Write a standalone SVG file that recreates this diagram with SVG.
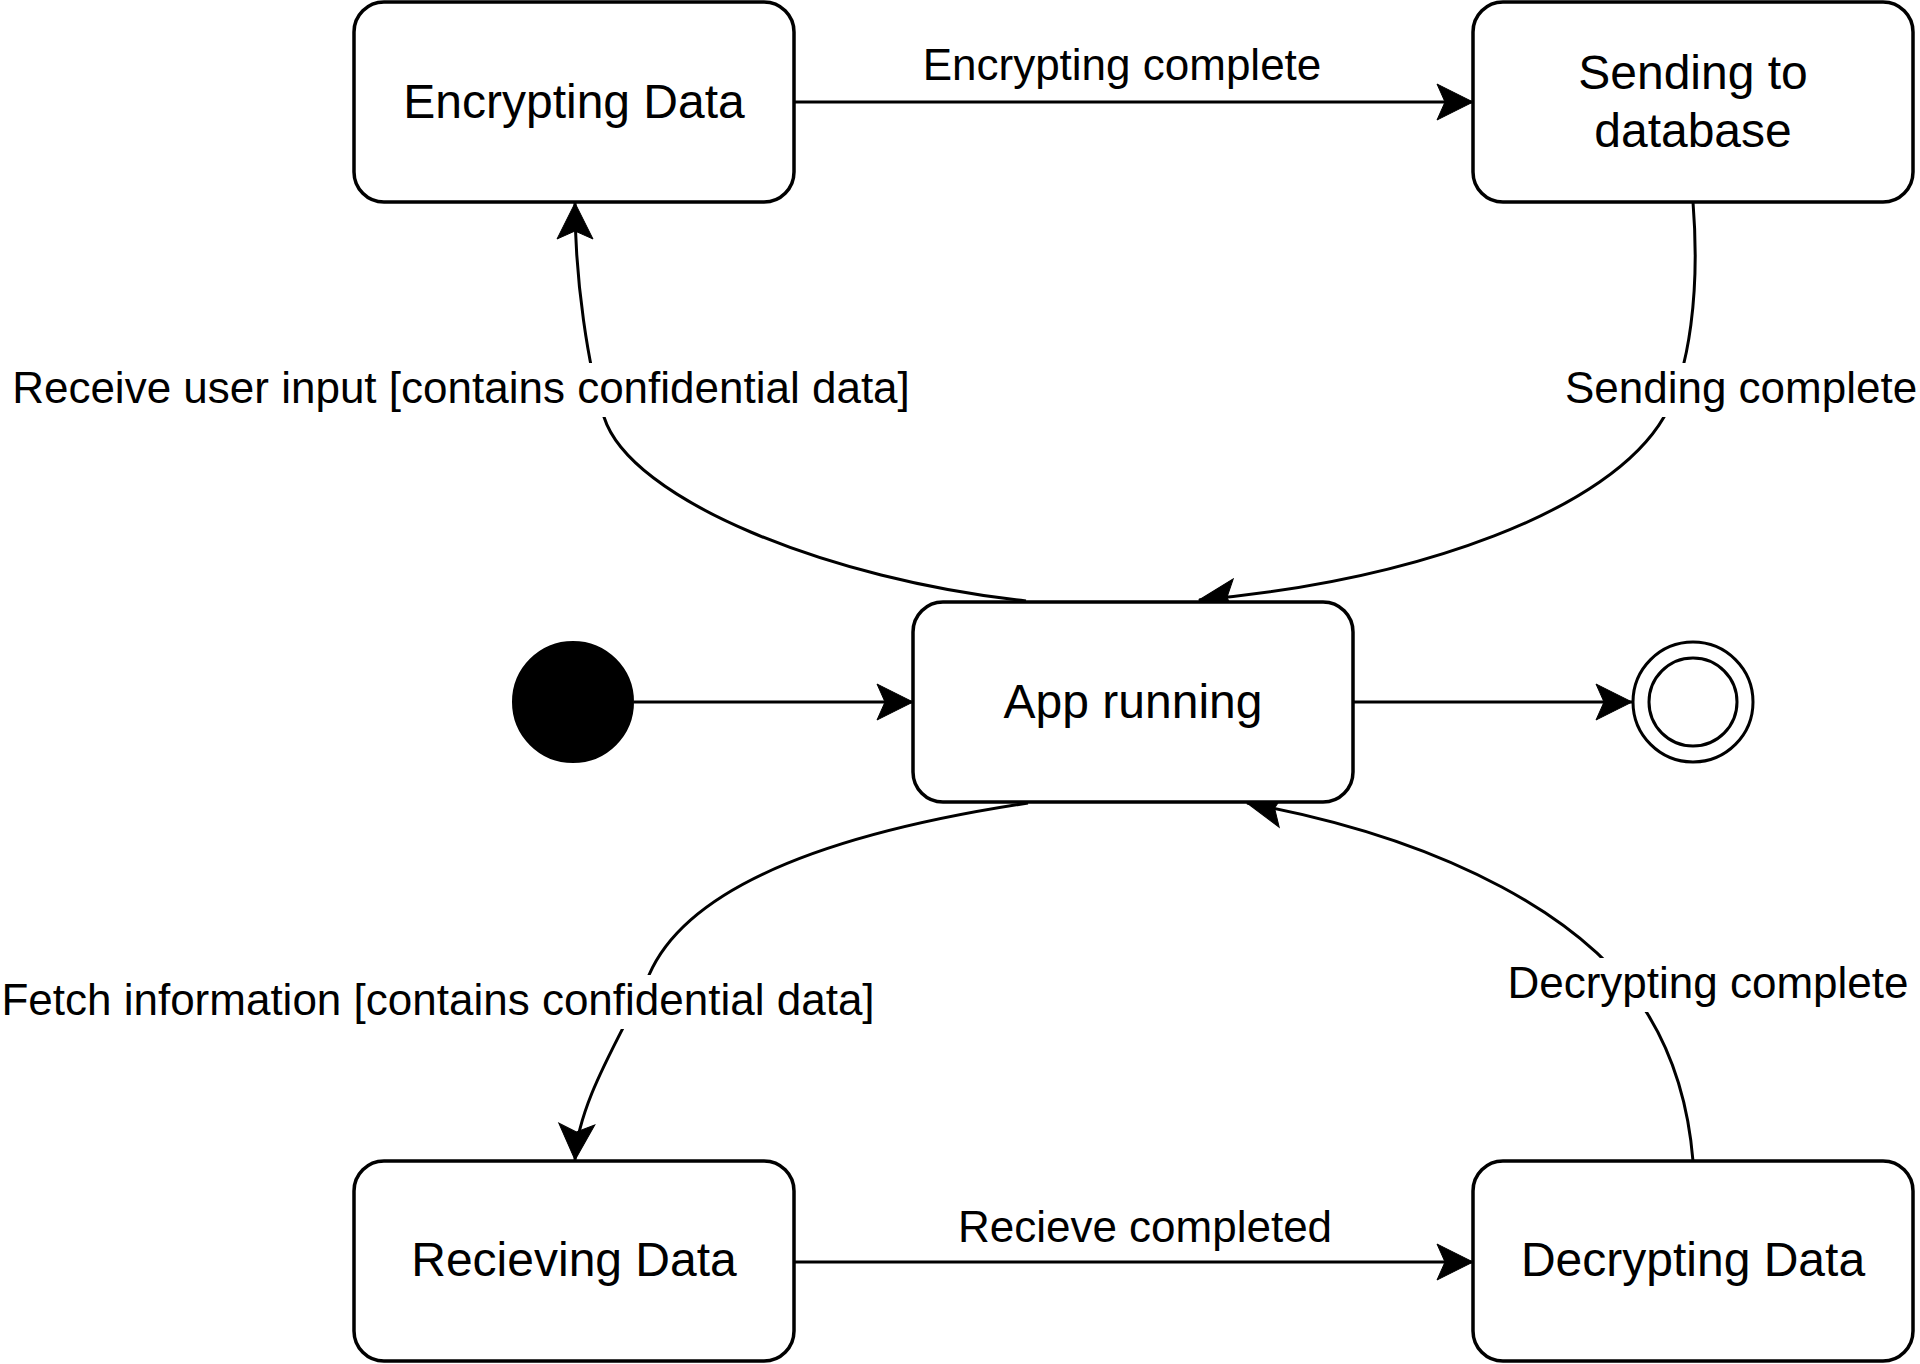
<svg xmlns="http://www.w3.org/2000/svg" width="1920" height="1364" viewBox="0 0 1920 1364">
<style>
.node{fill:#fff;stroke:#000;stroke-width:3.5}
.nt{font-family:"Liberation Sans",Arial,sans-serif;font-size:48px;fill:#000;text-anchor:middle}
.lt{font-family:"Liberation Sans",Arial,sans-serif;font-size:44px;fill:#000;text-anchor:middle}
.edge{fill:none;stroke:#000;stroke-width:3;marker-end:url(#arr)}
.lbg{fill:#fff;stroke:none}
</style>
<defs>
<marker id="arr" markerUnits="userSpaceOnUse" viewBox="-40 -20 42 40" refX="0" refY="0" markerWidth="42" markerHeight="40" orient="auto" overflow="visible">
<path d="M0,0 L-36,-18 L-28,0 L-36,18 Z" fill="#000" stroke="#000" stroke-width="1"/>
</marker>
</defs>
<rect width="1920" height="1364" fill="#fff"/>
<g id="connectors">
<path class="edge" d="M794,102 L1473,102"/>
<path class="edge" d="M1026,601 C830,580 630,500 604,417 C588,367 575,280 575,203"/>
<path class="edge" d="M1693,202 C1700,290 1690,370 1664,417 C1610,510 1420,580 1199,600"/>
<path class="edge" d="M634,702 L913,702"/>
<path class="edge" d="M1353,702 L1632,702"/>
<path class="edge" d="M1028,803 C850,830 690,880 649,975 C624,1032 578,1100 575,1160"/>
<path class="edge" d="M1693,1161 C1688,1100 1670,1050 1647,1013 C1590,920 1450,840 1247,803"/>
<path class="edge" d="M794,1262 L1473,1262"/>
<g id="edge-labels">
<text class="lt" x="1122" y="80">Encrypting complete</text>
<rect class="lbg" x="13" y="363" width="896" height="54"/>
<text class="lt" x="461" y="403">Receive user input [contains confidential data]</text>
<rect class="lbg" x="1565" y="363" width="352" height="54"/>
<text class="lt" x="1741" y="403">Sending complete</text>
<rect class="lbg" x="2" y="975" width="873" height="54"/>
<text class="lt" x="438" y="1015">Fetch information [contains confidential data]</text>
<rect class="lbg" x="1508" y="958" width="401" height="54"/>
<text class="lt" x="1708" y="998">Decrypting complete</text>
<text class="lt" x="1145" y="1242">Recieve completed</text>
</g>
</g>
<g id="encrypting">
<rect class="node" x="354" y="2" width="440" height="200" rx="30" ry="30"/>
<text class="nt" x="574" y="118">Encrypting Data</text>
</g>
<g id="sending">
<rect class="node" x="1473" y="2" width="440" height="200" rx="30" ry="30"/>
<text class="nt" x="1693" y="89">Sending to</text>
<text class="nt" x="1693" y="147">database</text>
</g>
<g id="initial">
<circle cx="573" cy="702" r="60" fill="#000" stroke="#000" stroke-width="2"/>
</g>
<g id="app">
<rect class="node" x="913" y="602" width="440" height="200" rx="30" ry="30"/>
<text class="nt" x="1133" y="718">App running</text>
</g>
<g id="final">
<circle cx="1693" cy="702" r="60" fill="#fff" stroke="#000" stroke-width="3"/>
<circle cx="1693" cy="702" r="44" fill="#fff" stroke="#000" stroke-width="3"/>
</g>
<g id="recieving">
<rect class="node" x="354" y="1161" width="440" height="200" rx="30" ry="30"/>
<text class="nt" x="574" y="1276">Recieving Data</text>
</g>
<g id="decrypting">
<rect class="node" x="1473" y="1161" width="440" height="200" rx="30" ry="30"/>
<text class="nt" x="1693" y="1276">Decrypting Data</text>
</g>
</svg>
